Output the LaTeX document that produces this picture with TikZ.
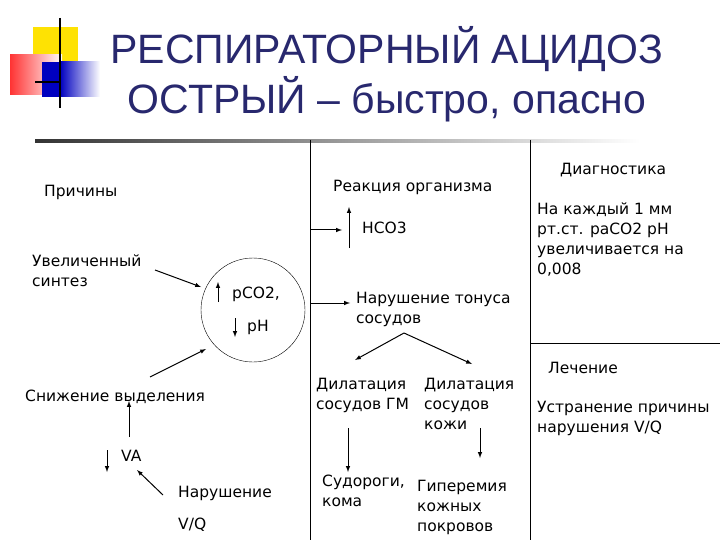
\documentclass[tikz,border=0pt]{standalone}
\usepackage{fontspec}
\setmainfont{DejaVu Sans}
\newfontfamily\titlefont{Liberation Sans}
\definecolor{ttl}{RGB}{40,40,110}
\begin{document}
\begin{tikzpicture}[x=1pt,y=-1pt,
  lbl/.style={font=\fontsize{15.5}{20}\selectfont,align=left,inner sep=0pt,anchor=north west},
  arr/.style={-latex,line width=1pt},
  sep/.style={line width=0.8pt}]
\useasboundingbox (0,0) rectangle (720,540);
\fill[white] (0,0) rectangle (720,540);
% logo
\fill[yellow!85!orange] (33,27) rectangle (78,65);
\shade[left color=red!80, right color=white] (10,55) rectangle (62,95);
\fill[blue!75!black] (42,62) rectangle (78,97);
\shade[left color=blue!75!black, right color=white] (60,62) rectangle (100,97);
\draw[line width=1.5pt] (60,18) -- (60,108);
\draw[line width=1.5pt] (35,82) -- (60,82);
\shade[left color=black!80, right color=white] (35,139.5) rectangle (640,142.5);
% title
\node[text=ttl,font=\titlefont\fontsize{41}{50}\selectfont,align=center] (title) at (387,74) {РЕСПИРАТОРНЫЙ АЦИДОЗ\\ОСТРЫЙ – быстро, опасно};
% separators
\coordinate (s1a) at (310,140); \coordinate (s1b) at (310,540);
\coordinate (s2a) at (530,140); \coordinate (s2b) at (530,540);
\coordinate (h1) at (530,343); \coordinate (h2) at (720,343);
\draw[sep] (s1a) -- (s1b);
\draw[sep] (s2a) -- (s2b);
\draw[sep] (h1) -- (h2);
% left
\node[lbl] (prich) at (44,185) {Причины};
\node[lbl] (uvel) at (32,255) {Увеличенный\\синтез};
\node[draw,circle,minimum size=104pt,inner sep=0pt] (circ) at (253,310) {};
\node[lbl] (pco2) at (232,287) {pCO2,};
\node[lbl] (ph) at (247,320) {pH};
\draw[arr] (218,302) -- (218,282);
\draw[arr] (235,318) -- (235,337);
\coordinate (u1) at (155,270);
\draw[arr] (u1) -- (201,287);
\node[lbl] (snij) at (25,390) {Снижение выделения};
\coordinate (sn0) at (150,377);
\draw[arr] (sn0) -- (206,349);
\node[lbl] (va) at (121,450) {VA};
\draw[arr] (129,437) -- (129,401);
\draw[arr] (107,450) -- (107,472);
\node[lbl] (nar) at (178,486) {Нарушение};
\node[lbl] (vq) at (178,518) {V/Q};
\draw[arr] (163,495) -- (137,470);
% middle
\node[lbl] (reak) at (333,180) {Реакция организма};
\node[lbl] (hco3) at (362,222) {HCO3};
\draw[arr] (349,248) -- (349,207);
\draw[arr] (310,230) -- (342,230);
\draw[arr] (310,303) -- (350,303);
\node[lbl] (ton) at (356,292) {Нарушение тонуса\\сосудов};
\draw[arr] (404,333) -- (355,360);
\draw[arr] (404,333) -- (472,364);
\node[lbl] (d1) at (316,378) {Дилатация\\сосудов ГМ};
\node[lbl] (d2) at (424,378) {Дилатация\\сосудов\\кожи};
\draw[arr] (348,428) -- (348,472);
\draw[arr] (480,428) -- (480,458);
\node[lbl] (sud) at (322,475) {Судороги,\\кома};
\node[lbl] (gip) at (417,480) {Гиперемия\\кожных\\покровов};
% right
\node[lbl] (diag) at (560,163) {Диагностика};
\node[lbl] (diagt) at (537,203) {На каждый 1 мм\\рт.ст. paCO2 pH\\увеличивается на\\0,008};
\node[lbl] (lech) at (548,362) {Лечение};
\node[lbl] (lecht) at (537,401) {Устранение причины\\нарушения V/Q};
\end{tikzpicture}
\end{document}
